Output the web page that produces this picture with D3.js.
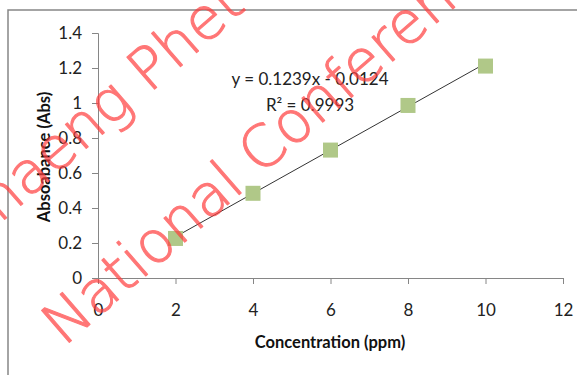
<!DOCTYPE html>
<html>
<head>
<meta charset="utf-8">
<script src="https://cdn.jsdelivr.net/npm/d3@7"></script>
<style>
  html, body { margin: 0; padding: 0; background: #fff; }
  svg { display: block; }
</style>
</head>
<body>
<svg id="chart" width="577" height="375"></svg>
<script>
// data
const concentration = [2, 4, 6, 8, 10];
const absorbance = [0.226, 0.484, 0.731, 0.986, 1.211];
const xTicks = [0, 2, 4, 6, 8, 10, 12];
const yTicks = [0, 0.2, 0.4, 0.6, 0.8, 1, 1.2, 1.4];
const slope = 0.1239;
const intercept = -0.0124;
const equationLines = ["y = 0.1239x - 0.0124", "R² = 0.9993"];
const watermarkLines = ["onaeng Phet", "National Conference"];

const svg = d3.select("#chart");
const font = "Lato, 'Open Sans', sans-serif";
const axisColor = "#868686";

// outer chart frame (only top and left edges show)
svg.append("path")
    .attr("d", "M8,375 V10 H577")
    .attr("fill", "none")
    .attr("stroke", axisColor)
    .attr("stroke-width", 1.5);

const x = d3.scaleLinear().domain([0, 12]).range([98, 563]);
const y = d3.scaleLinear().domain([0, 1.4]).range([278, 33]);

// y axis
const yAxis = svg.append("g")
    .attr("transform", `translate(${x(0)},0)`)
    .call(d3.axisLeft(y).tickValues(yTicks).tickSize(6).tickPadding(10)
        .tickFormat(d => d3.format("")(+d.toFixed(1))));

// x axis
const xAxis = svg.append("g")
    .attr("transform", `translate(0,${y(0)})`)
    .call(d3.axisBottom(x).tickValues(xTicks).tickSize(6).tickPadding(20));

[yAxis, xAxis].forEach(a => {
    a.select(".domain").attr("stroke", axisColor);
    a.selectAll(".tick line").attr("stroke", axisColor);
    a.selectAll(".tick text")
        .attr("fill", "#222")
        .style("font-family", font)
        .style("font-size", "17px");
});

// axis titles
svg.append("text")
    .attr("x", 330)
    .attr("y", 348)
    .attr("text-anchor", "middle")
    .style("font-family", font)
    .style("font-size", "16.5px")
    .style("font-weight", "bold")
    .attr("fill", "#111")
    .text("Concentration (ppm)");

svg.append("text")
    .attr("transform", "translate(50,157) rotate(-90)")
    .attr("text-anchor", "middle")
    .style("font-family", font)
    .style("font-size", "16.5px")
    .style("font-weight", "bold")
    .attr("fill", "#111")
    .text("Absoabance (Abs)");

// linear trendline
svg.append("line")
    .attr("x1", x(2)).attr("y1", y(slope * 2 + intercept))
    .attr("x2", x(10)).attr("y2", y(slope * 10 + intercept))
    .attr("stroke", "#333")
    .attr("stroke-width", 1);

// markers
const size = 15;
svg.append("g")
    .selectAll("rect")
    .data(concentration)
    .join("rect")
    .attr("x", d => x(d) - size / 2)
    .attr("y", (d, i) => y(absorbance[i]) - size / 2)
    .attr("width", size)
    .attr("height", size)
    .attr("fill", "#b0c888");

// trendline label
svg.append("g")
    .selectAll("text")
    .data(equationLines)
    .join("text")
    .attr("x", 310)
    .attr("y", (d, i) => 85 + i * 26)
    .attr("text-anchor", "middle")
    .style("font-family", font)
    .style("font-size", "17px")
    .attr("fill", "#222")
    .text(d => d);

// watermark across the picture
const wmStarts = [[-27, 247], [64, 347]];
svg.append("g")
    .attr("opacity", 0.7)
    .selectAll("text")
    .data(watermarkLines)
    .join("text")
    .attr("transform", (d, i) => `translate(${wmStarts[i][0]},${wmStarts[i][1]}) rotate(-41)`)
    .style("font-family", "'DejaVu Sans', sans-serif")
    .style("font-size", "58px")
    .style("font-weight", 200)
    .attr("fill", "#ff3d3d")
    .attr("stroke", "#ff3d3d")
    .attr("stroke-width", 1.1)
    .attr("stroke-linejoin", "round")
    .text(d => d);
</script>
</body>
</html>
